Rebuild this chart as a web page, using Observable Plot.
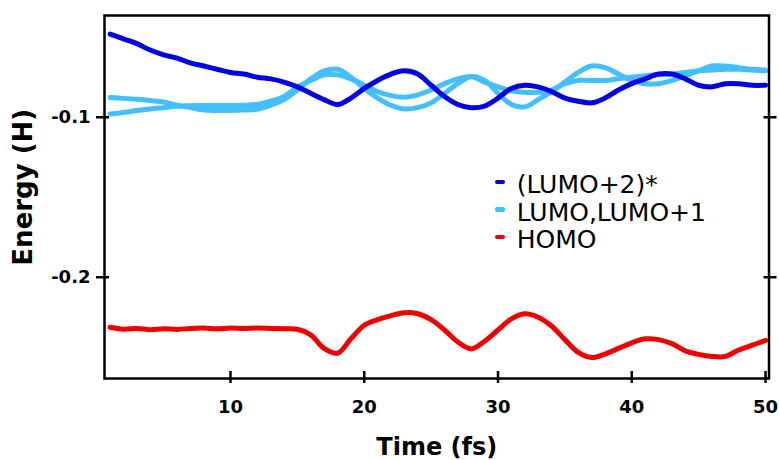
<!DOCTYPE html>
<html>
<head>
<meta charset="utf-8">
<script src="https://cdn.jsdelivr.net/npm/d3@7"></script>
<script src="https://cdn.jsdelivr.net/npm/@observablehq/plot@0.6"></script>
<style>
  body { margin: 0; background: #fff; }
  #wrap { position: relative; width: 779px; height: 460px; font-family: "DejaVu Sans", sans-serif; }
  #legend { position: absolute; left: 495px; top: 171px; font-size: 25px; line-height: 27.5px; color: #000; }
  .row { position: relative; height: 27.5px; white-space: nowrap; }
  .sw { position: absolute; left: 0; top: 8.5px; width: 10px; height: 4.5px; border-radius: 2px; }
  .lab { position: absolute; left: 21.7px; top: 0; }
</style>
</head>
<body>
<div id="wrap"></div>
<script>
// ---- data ----
const time = [1,2,3,4,5,6,7,8,9,10,11,12,13,14,15,16,17,18,19,20,21,22,23,24,25,26,27,28,29,30,31,32,33,34,35,36,37,38,39,40,41,42,43,44,45,46,47,48,49,50];

const lumo2 = [-0.048,-0.051,-0.054,-0.058,-0.061,-0.063,-0.066,-0.068,-0.070,-0.072,
               -0.073,-0.075,-0.076,-0.078,-0.081,-0.085,-0.089,-0.092,-0.088,-0.082,
               -0.077,-0.073,-0.071,-0.073,-0.080,-0.087,-0.092,-0.094,-0.093,-0.088,
               -0.082,-0.080,-0.081,-0.084,-0.088,-0.090,-0.091,-0.088,-0.083,-0.079,
               -0.076,-0.073,-0.073,-0.076,-0.080,-0.081,-0.079,-0.079,-0.080,-0.080];

const lumoA = [-0.0877,-0.0882,-0.0888,-0.0896,-0.0905,-0.0925,-0.0940,-0.0955,-0.0958,-0.0958,
               -0.0955,-0.0950,-0.0925,-0.0890,-0.0830,-0.0760,-0.0710,-0.0700,-0.0750,-0.0820,
               -0.0880,-0.0925,-0.0948,-0.0940,-0.0910,-0.0850,-0.0790,-0.0745,-0.0770,-0.0850,
               -0.0920,-0.0935,-0.0890,-0.0840,-0.0780,-0.0720,-0.0680,-0.0690,-0.0730,-0.0770,
               -0.0790,-0.0790,-0.0770,-0.0740,-0.0710,-0.0680,-0.0680,-0.0690,-0.0700,-0.0705];

const lumoB = [-0.0979,-0.0970,-0.0958,-0.0948,-0.0940,-0.0932,-0.0928,-0.0927,-0.0927,-0.0927,
               -0.0925,-0.0920,-0.0900,-0.0870,-0.0810,-0.0770,-0.0735,-0.0735,-0.0760,-0.0800,
               -0.0840,-0.0865,-0.0875,-0.0860,-0.0830,-0.0790,-0.0760,-0.0745,-0.0780,-0.0810,
               -0.0835,-0.0844,-0.0844,-0.0830,-0.0790,-0.0770,-0.0770,-0.0770,-0.0760,-0.0750,
               -0.0740,-0.0735,-0.0730,-0.0720,-0.0710,-0.0705,-0.0700,-0.0700,-0.0705,-0.0710];

const homo = [-0.2313,-0.2325,-0.2320,-0.2328,-0.2322,-0.2326,-0.2320,-0.2318,-0.2322,-0.2318,
              -0.2320,-0.2318,-0.2320,-0.2322,-0.2325,-0.2360,-0.2445,-0.2475,-0.2385,-0.2300,
              -0.2265,-0.2240,-0.2222,-0.2228,-0.2265,-0.2330,-0.2405,-0.2448,-0.2400,-0.2330,
              -0.2260,-0.2228,-0.2250,-0.2305,-0.2390,-0.2470,-0.2502,-0.2480,-0.2445,-0.2410,
              -0.2385,-0.2390,-0.2415,-0.2460,-0.2482,-0.2495,-0.2495,-0.2455,-0.2425,-0.2395];

const xTicks = [10, 20, 30, 40, 50];
const yTicks = [-0.1, -0.2];
const seriesNames = ["(LUMO+2)*", "LUMO,LUMO+1", "HOMO"];
const seriesColors = ["#0000e6", "#42bfff", "#f20000"];
const xLabel = "Time (fs)";
const yLabel = "Energy (H)";

// ---- build ----
const rows = (vals) => vals.map((v, i) => ({t: time[i], e: v}));
const lineOpts = (c) => ({x: "t", y: "e", stroke: c, strokeWidth: 5, curve: "catmull-rom", strokeLinecap: "round", strokeLinejoin: "round"});
const blank = () => "";

const chart = Plot.plot({
  width: 779,
  height: 460,
  marginLeft: 104,
  marginRight: 10.5,
  marginTop: 15,
  marginBottom: 82,
  style: {fontFamily: "'DejaVu Sans', sans-serif", background: "white", color: "black", overflow: "visible"},
  x: {domain: [0.58, 50.26], axis: null},
  y: {domain: [-0.2633, -0.0364], axis: null},
  marks: [
    Plot.lineY(rows(lumoA), lineOpts(seriesColors[1])),
    Plot.lineY(rows(lumoB), lineOpts(seriesColors[1])),
    Plot.lineY(rows(lumo2), lineOpts(seriesColors[0])),
    Plot.lineY(rows(homo), lineOpts(seriesColors[2])),
    Plot.frame({stroke: "black", strokeWidth: 2.5}),
    // tick labels
    Plot.axisX(xTicks, {anchor: "bottom", tickSize: 0, tickPadding: 22, fontSize: 18, fontWeight: "bold", label: null, tickFormat: d => String(d)}),
    Plot.axisY(yTicks, {anchor: "left", tickSize: 0, tickPadding: 14, fontSize: 18, fontWeight: "bold", label: null, tickFormat: d => d.toFixed(1)}),
    // tick marks crossing the frame
    Plot.axisX(xTicks, {anchor: "bottom", tickSize: 12, dy: -7, strokeWidth: 2.5, label: null, tickFormat: blank}),
    Plot.axisY(yTicks, {anchor: "left", tickSize: 13, dx: 5, strokeWidth: 2.5, label: null, tickFormat: blank}),
    Plot.axisY(yTicks, {anchor: "right", tickSize: 13, dx: -6, strokeWidth: 2.5, label: null, tickFormat: blank}),
    // axis titles
    Plot.text([xLabel], {text: d => d, frameAnchor: "bottom", textAnchor: "middle", lineAnchor: "top", dy: 59, fontSize: 24, fontWeight: "bold", fill: "black"}),
    Plot.text([yLabel], {text: d => d, frameAnchor: "left", textAnchor: "middle", rotate: -90, dx: -80.6, dy: -9.8, fontSize: 26, fontWeight: "bold", fill: "black"})
  ]
});

const wrap = document.getElementById("wrap");
wrap.appendChild(chart);

// legend overlay
const legend = d3.select(wrap).append("div").attr("id", "legend");
seriesNames.forEach((name, i) => {
  const row = legend.append("div").attr("class", "row");
  row.append("span").attr("class", "sw").style("background", seriesColors[i]);
  row.append("span").attr("class", "lab").text(name);
});
</script>
</body>
</html>
